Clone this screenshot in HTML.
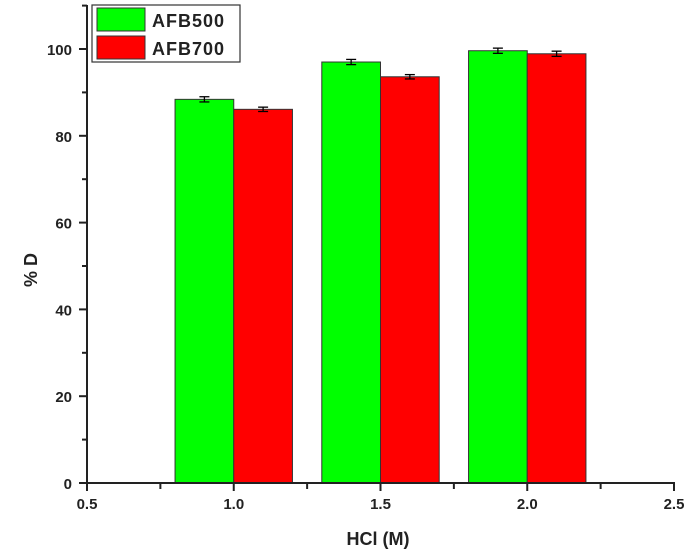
<!DOCTYPE html>
<html><head><meta charset="utf-8"><style>
body{margin:0;background:#fff}
svg text{font-family:"Liberation Sans",Arial,sans-serif;font-weight:bold;fill:#222}
</style></head><body>
<svg id="c" width="685" height="554"></svg>
<script>
const categories=[1.0,1.5,2.0];
const afb500=[88.4,97.0,99.6];
const afb700=[86.1,93.6,98.9];
const err500=[0.6,0.6,0.6];
const err700=[0.5,0.5,0.6];
const xTicks=[0.5,1.0,1.5,2.0,2.5];
const yTicks=[0,20,40,60,80,100];
const NS="http://www.w3.org/2000/svg";
const svg=document.getElementById('c');
const X=v=>87+(v-0.5)*293.5;
const Y=v=>483-v*4.34;
function el(t,a,p){const e=document.createElementNS(NS,t);for(const k in a)e.setAttribute(k,a[k]);(p||svg).appendChild(e);return e;}
const bw=0.2*293.5;
categories.forEach((c,i)=>{
 [[afb500,err500,'#00ff00',-1,'afb500'],[afb700,err700,'#ff0000',0,'afb700']].forEach(([d,e,col,off,nm])=>{
  const x=X(c)+off*bw;
  const b=el('rect',{x:x,y:Y(d[i]),width:bw,height:Y(0)-Y(d[i]),fill:col,stroke:'#333','stroke-width':1});
  
  
  const cx=x+bw/2;
  const g=el('g',{stroke:'#000','stroke-width':1.3});
  
  
  el('line',{x1:cx,x2:cx,y1:Y(d[i]+e[i]),y2:Y(d[i]-e[i])},g);
  el('line',{x1:cx-5,x2:cx+5,y1:Y(d[i]+e[i]),y2:Y(d[i]+e[i])},g);
  el('line',{x1:cx-5,x2:cx+5,y1:Y(d[i]-e[i]),y2:Y(d[i]-e[i])},g);
 });
});
const ax=el('g',{stroke:'#222','stroke-width':2});


el('line',{x1:87,x2:87,y1:5,y2:484},ax);
el('line',{x1:86,x2:X(2.5)+1,y1:483,y2:483},ax);
for(let v=0;v<=110;v+=10){el('line',{x1:v%20?82:79,x2:87,y1:Y(v),y2:Y(v)},ax);}
for(let v=0.5;v<=2.51;v+=0.25){el('line',{x1:X(v),x2:X(v),y1:483,y2:(Math.round(v*4)%2?489:491)},ax);}
yTicks.forEach(v=>{const t=el('text',{x:72,y:Y(v)+6,'text-anchor':'end','font-size':15});t.textContent=v;
 });
xTicks.forEach(v=>{const t=el('text',{x:X(v),y:509,'text-anchor':'middle','font-size':15});t.textContent=v.toFixed(1);
 });
const xt=el('text',{x:378,y:545,'text-anchor':'middle','font-size':18});xt.textContent='HCl (M)';

const yt=el('text',{x:0,y:0,'text-anchor':'middle','font-size':18,transform:'translate(37,270) rotate(-90)'});yt.textContent='% D';

const lg=el('g',{});

el('rect',{x:92,y:5,width:148,height:57,fill:'#fff',stroke:'#333','stroke-width':1.2},lg);
el('rect',{x:97,y:8,width:48,height:23,fill:'#00ff00',stroke:'#333'},lg);
el('rect',{x:97,y:36,width:48,height:23,fill:'#ff0000',stroke:'#333'},lg);
const l1=el('text',{x:152,y:27,'font-size':18,'letter-spacing':1},lg);l1.textContent='AFB500';
const l2=el('text',{x:152,y:55,'font-size':18,'letter-spacing':1},lg);l2.textContent='AFB700';
</script>
</body></html>
